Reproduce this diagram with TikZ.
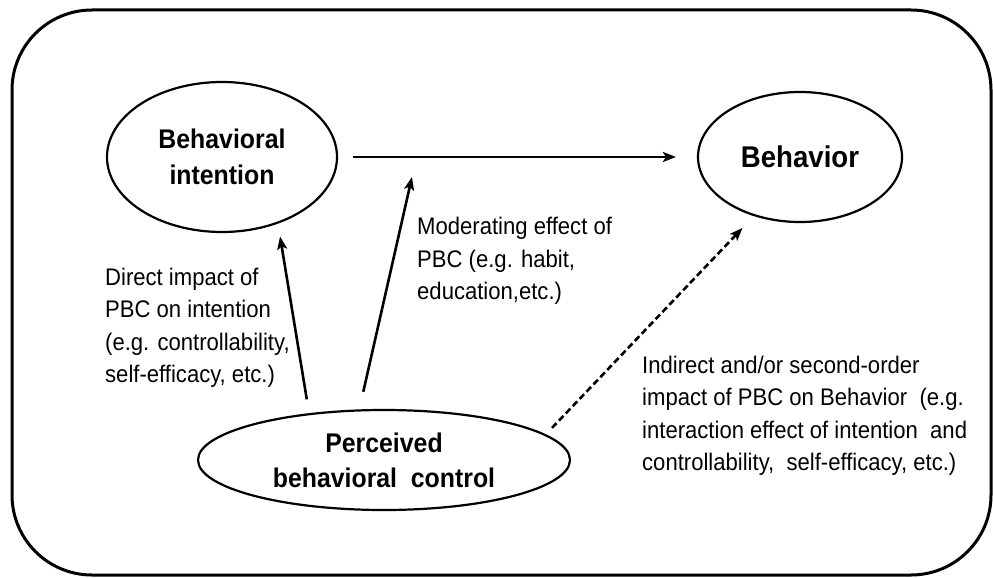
\documentclass[tikz,border=0pt]{standalone}
\usepackage{fontspec}
\setmainfont{Liberation Sans}[FakeStretch=0.92]
\usetikzlibrary{shapes.geometric,arrows.meta}
\begin{document}
\begin{tikzpicture}[x=1pt,y=-1pt,
  ell/.style={ellipse, draw, line width=2.2pt, inner sep=0pt, align=center,
    text=black, font=\bfseries\fontsize{27}{36}\selectfont},
  arr/.style={line width=2.6pt, -{Stealth[length=13pt,width=10pt,inset=3pt]}},
  dasharr/.style={arr, dash pattern=on 6.5pt off 3.5pt},
  lbl/.style={align=left, anchor=west, inner sep=0pt, text=black,
    font=\fontsize{24}{32.5}\selectfont}]
\useasboundingbox (0,0) rectangle (993,578);
\fill[white] (0,0) rectangle (993,578);
\draw[line width=3pt, rounded corners=80pt] (12,10) rectangle (991,575);

\node[ell, minimum width=230pt, minimum height=150pt] (bi) at (222,157) {Behavioral\\intention};
\node[ell, minimum width=204pt, minimum height=130pt, font=\bfseries\fontsize{30}{36}\selectfont] (b) at (800,157) {Behavior};
\node[ell, minimum width=372pt, minimum height=100pt, font=\bfseries\fontsize{27}{35}\selectfont] (pbc) at (384,460) {Perceived\\behavioral~~control};

\draw[arr, shorten <=15pt, shorten >=21pt] (bi.east) -- (b.west);
\coordinate (m) at (416.5,157);
\draw[arr, shorten <=14pt, shorten >=13pt] (pbc.148.4) -- (bi.-50.9);
\draw[arr, shorten <=18pt, shorten >=20.5pt] (pbc.116.8) -- (m);
\draw[dasharr, shorten <=9pt, shorten >=16.4pt] (pbc.9.1) -- (b.-128.1);

\node[lbl] (t1) at (105,328) {Direct impact of\\PBC on intention\\(e.g. controllability,\\self-efficacy, etc.)};
\node[lbl] (t2) at (417,261) {Moderating effect of\\PBC (e.g. habit,\\education,etc.)};
\node[lbl] (t3) at (642,416) {Indirect and/or second-order\\impact of PBC on Behavior~~(e.g.\\interaction effect of intention~~and\\controllability,~~self-efficacy, etc.)};
\end{tikzpicture}
\end{document}
